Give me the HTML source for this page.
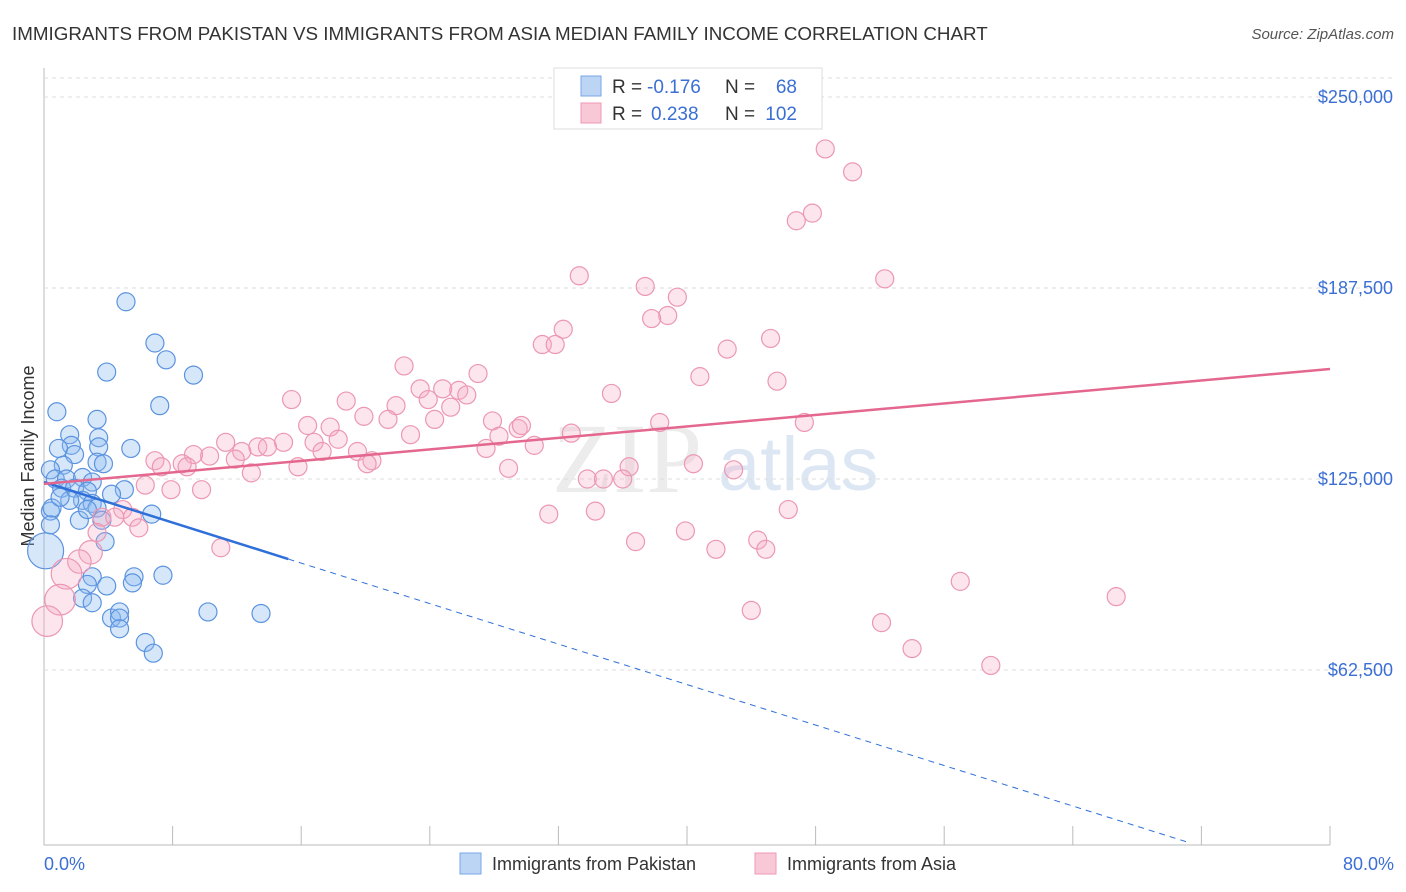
<!DOCTYPE html>
<html><head><meta charset="utf-8"><style>
body{margin:0;background:#fff;font-family:"Liberation Sans",sans-serif;}
svg{display:block}
</style></head><body>
<svg width="1406" height="892" id="c">
<text x="12" y="40" font-size="18.8" fill="#333">IMMIGRANTS FROM PAKISTAN VS IMMIGRANTS FROM ASIA MEDIAN FAMILY INCOME CORRELATION CHART</text>
<text x="1394" y="39" font-size="15" fill="#555" text-anchor="end" font-style="italic">Source: ZipAtlas.com</text>
<text x="34" y="456" font-size="18" fill="#333" text-anchor="middle" transform="rotate(-90 34 456)">Median Family Income</text>
<text x="552" y="492" font-size="100" fill="#ececec" font-family="Liberation Serif">ZIP</text>
<text x="718" y="490" font-size="76" fill="#dde7f4">atlas</text>
<g id="grid"></g><g id="pts"></g><g id="lines"></g>
<text x="44" y="870" font-size="18" fill="#3b6fd4">0.0%</text>
<text x="1394" y="870" font-size="18" fill="#3b6fd4" text-anchor="end">80.0%</text>
<g>
<rect x="554" y="68" width="268" height="61" fill="#fff" stroke="#ddd"/>
<rect x="581" y="76" width="20" height="20" fill="#bcd5f5" stroke="#7aa6e6"/>
<rect x="581" y="103" width="20" height="20" fill="#f9c8d6" stroke="#ee9ab4"/>
<text x="612" y="93" font-size="19" fill="#333">R =</text>
<text x="647" y="93" font-size="19" fill="#3b6fd4">-0.176</text>
<text x="725" y="93" font-size="19" fill="#333">N =</text>
<text x="797" y="93" font-size="19" fill="#3b6fd4" text-anchor="end">68</text>
<text x="612" y="120" font-size="19" fill="#333">R =</text>
<text x="651" y="120" font-size="19" fill="#3b6fd4">0.238</text>
<text x="725" y="120" font-size="19" fill="#333">N =</text>
<text x="797" y="120" font-size="19" fill="#3b6fd4" text-anchor="end">102</text>
</g>
<g>
<rect x="460" y="853" width="21" height="21" fill="#bcd5f5" stroke="#7aa6e6"/>
<text x="492" y="870" font-size="18" fill="#333">Immigrants from Pakistan</text>
<rect x="755" y="853" width="21" height="21" fill="#f9c8d6" stroke="#ee9ab4"/>
<text x="787" y="870" font-size="18" fill="#333">Immigrants from Asia</text>
</g>
</svg>
<script>
const yTicks=[62500,125000,187500,250000];
const yTickLabels=["$62,500","$125,000","$187,500","$250,000"];
const xTicks=[0,8,16,24,32,40,48,56,64,72,80];
const pakistan=[[5.1,183],[6.9,169.5],[7.6,164],[3.9,160],[9.3,159],[7.2,149],[0.8,147],[3.3,144.5],[1.6,139.5],[3.4,138.5],[1.7,136],[5.4,135],[0.9,135],[3.4,135.5],[1.9,133],[1.2,129.5],[3.3,130.5],[3.7,130],[0.4,128],[0.7,125],[1.4,125],[2.4,125.5],[3.0,124],[5.0,121.5],[1.1,122],[1.9,122],[2.7,121],[4.2,120],[2.4,118],[3.0,117],[3.3,115.5],[0.4,114.5],[2.2,111.5],[3.6,111.5],[6.7,113.5],[3.8,104.5],[0.5,115.5],[0.4,110],[1.6,118],[1.0,119],[2.7,115],[3.0,93],[2.7,90.5],[5.6,93],[7.4,93.5],[3.9,90],[5.5,91],[2.4,86],[3.0,84.5],[4.2,79.5],[4.7,81.5],[4.7,79.5],[4.7,76],[10.2,81.5],[13.5,81],[6.3,71.5],[6.8,68],[0.1,101.5]];
const pakistanSize=pakistan.map((p,i)=>i===pakistan.length-1?2:1);
const asia=[[48.6,233],[50.3,225.5],[47.8,212],[46.8,209.5],[33.3,191.5],[52.3,190.5],[37.4,188],[39.4,184.5],[38.8,178.5],[37.8,177.5],[32.3,174],[31,169],[31.8,169],[45.2,171],[42.5,167.5],[22.4,162],[27,159.5],[40.8,158.5],[45.6,157],[35.3,153],[23.4,154.5],[24.8,154.5],[25.8,154],[26.3,152.5],[23.9,151],[15.4,151],[18.8,150.5],[21.9,149],[25.3,148.5],[19.9,145.5],[21.4,144.5],[24.3,144.5],[16.4,142.5],[17.8,142],[27.9,144],[29.5,141.5],[29.7,142.5],[38.3,143.5],[47.3,143.5],[28.3,139],[22.8,139.5],[18.3,138],[16.8,137],[32.8,140],[30.5,136],[11.3,137],[14.9,137],[13.3,135.5],[13.9,135.5],[12.3,134],[19.5,134],[27.5,135],[17.3,134],[10.3,132.5],[9.3,133],[6.9,131],[7.3,129],[8.6,130],[11.9,131.5],[20.4,131],[20.1,130],[15.8,129],[8.9,129],[40.4,130],[36.4,129],[42.9,128],[12.9,127],[33.8,125],[34.8,125],[36,125],[28.9,128.5],[6.3,123],[7.9,121.5],[9.8,121.5],[31.4,113.5],[34.3,114.5],[46.3,115],[3.6,112.5],[4.9,115],[4.4,112.5],[5.5,112.5],[5.9,109],[3.3,107.5],[39.9,108],[36.8,104.5],[44.4,105],[41.8,102],[44.9,102],[11,102.5],[2.9,101],[2.2,98],[1.4,94],[1.0,85.5],[0.2,78.5],[57,91.5],[66.7,86.5],[44,82],[52.1,78],[54,69.5],[58.9,64]];
const asiaSize=asia.map(p=>p[0]<=1.4?1.7:(p[0]<3?1.3:1));
const pakTrend=[[0,124.0],[15.2,98.8],[71.3,5.9]];
const asiaTrend=[[0,123.4],[80,161]];
const NS="http://www.w3.org/2000/svg";
const X=v=>44+v/80*1286;
const Y=v=>861-v/62500*191;
function mk(t,a,p){const e=document.createElementNS(NS,t);for(const k in a)e.setAttribute(k,a[k]);p.appendChild(e);return e;}
const grid=document.getElementById('grid');
mk('line',{x1:44,y1:68,x2:44,y2:845,stroke:'#bbb'},grid);
mk('line',{x1:44,y1:845,x2:1330,y2:845,stroke:'#bbb'},grid);
mk('line',{x1:44,y1:78,x2:1394,y2:78,stroke:'#ddd','stroke-dasharray':'4,4'},grid);
yTicks.forEach((t,i)=>{
const l=mk('line',{x1:44,y1:Y(t),x2:1394,y2:Y(t),stroke:'#ddd','stroke-dasharray':'4,4'},grid);


const tx=mk('text',{x:1393,y:Y(t)+6,'font-size':18,fill:'#3b6fd4','text-anchor':'end'},grid);
tx.textContent=yTickLabels[i];


});
xTicks.forEach(t=>{
const l=mk('line',{x1:X(t),y1:826,x2:X(t),y2:845,stroke:'#bbb'},grid);


});
const pts=document.getElementById('pts');
pakistan.forEach((p,i)=>{
const c=mk('circle',{cx:X(p[0]),cy:Y(p[1]*1000),r:9*pakistanSize[i],fill:'rgba(140,185,240,0.35)',stroke:'#5b93df','stroke-width':1.2},pts);


});
asia.forEach((p,i)=>{
const c=mk('circle',{cx:X(p[0]),cy:Y(p[1]*1000),r:9*asiaSize[i],fill:'rgba(245,170,195,0.3)',stroke:'#ec97b3','stroke-width':1.2},pts);


});
const lines=document.getElementById('lines');
const b1=mk('line',{x1:X(pakTrend[0][0]),y1:Y(pakTrend[0][1]*1000),x2:X(pakTrend[1][0]),y2:Y(pakTrend[1][1]*1000),stroke:'#2f6fd8','stroke-width':2.5},lines);


const b2=mk('line',{x1:X(pakTrend[1][0]),y1:Y(pakTrend[1][1]*1000),x2:X(pakTrend[2][0]),y2:Y(pakTrend[2][1]*1000),stroke:'#2f6fd8','stroke-width':1,'stroke-dasharray':'6,5'},lines);


const a1=mk('line',{x1:X(asiaTrend[0][0]),y1:Y(asiaTrend[0][1]*1000),x2:X(asiaTrend[1][0]),y2:Y(asiaTrend[1][1]*1000),stroke:'#e4678f','stroke-width':2.5},lines);


</script>
</body></html>
